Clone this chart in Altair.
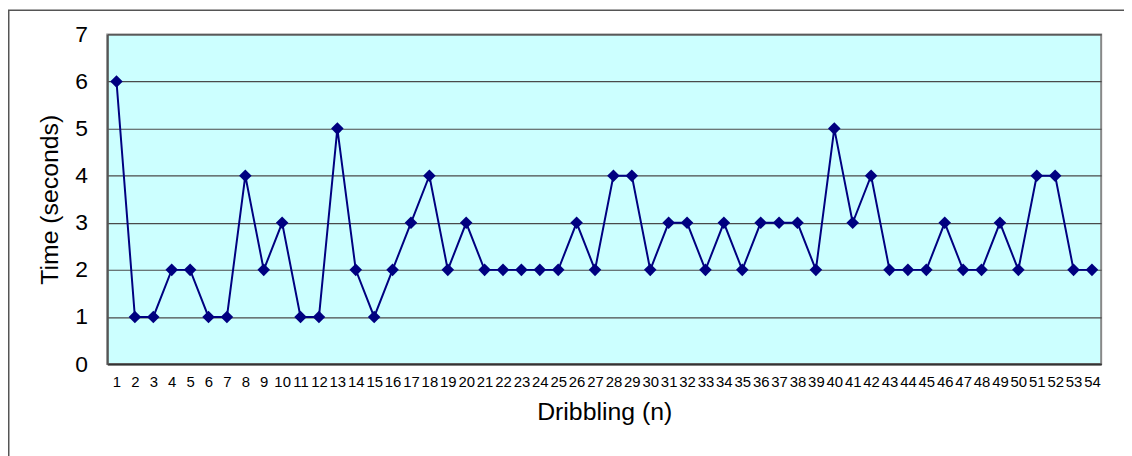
import altair as alt
import pandas as pd

trial = list(range(1, 55))
seconds = [6, 1, 1, 2, 2, 1, 1, 4, 2, 3, 1, 1, 5, 2, 1, 2, 3, 4, 2, 3,
           2, 2, 2, 2, 2, 3, 2, 4, 4, 2, 3, 3, 2, 3, 2, 3, 3, 3, 2, 5,
           3, 4, 2, 2, 2, 3, 2, 2, 3, 2, 4, 4, 2, 2]

df = pd.DataFrame({"n": trial, "t": seconds})

W, H = 1001, 332
PL, PT, PR, PB = 100, 25, 23, 91

x = alt.X("n:O", title="Dribbling (n)",
          scale=alt.Scale(type="point", padding=0.5),
          axis=alt.Axis(labelAngle=0, labelFontSize=15, labelPadding=11,
                        ticks=False, domainColor="#333333", domainWidth=2,
                        titleFontSize=25, titleFontWeight="normal",
                        titlePadding=10, labelFont="Liberation Sans",
                        titleFont="Liberation Sans", labelColor="black",
                        titleColor="black", labelOverlap=False))
y = alt.Y("t:Q", title="Time (seconds)",
          scale=alt.Scale(domain=[0, 7], nice=False),
          axis=alt.Axis(values=list(range(0, 8)), labelFontSize=23,
                        labelPadding=20, ticks=False, grid=True,
                        gridColor="#4a4a4a", gridWidth=1.2,
                        domainColor="#555555", domainWidth=2,
                        titleFontSize=25, titleFontWeight="normal",
                        titlePadding=12, labelFont="Liberation Sans",
                        titleFont="Liberation Sans", labelColor="black",
                        titleColor="black"))

frame = alt.Chart(pd.DataFrame({"k": [0]})).mark_rect(
    fill=None, stroke="#555555", strokeWidth=1.5
).encode(
    x=alt.value(-PL + 0.75), x2=alt.value(W + PR + 10),
    y=alt.value(-PT + 0.75), y2=alt.value(H + PB + 10),
)

line = alt.Chart(df).mark_line(color="#000080", strokeWidth=2).encode(x=x, y=y)
pts = alt.Chart(df).mark_point(shape="diamond", filled=True, color="#000080",
                               size=160, opacity=1).encode(x=x, y=y)

chart = alt.layer(line, pts, frame).properties(
    width=W, height=H,
    background="white",
    autosize=alt.AutoSizeParams(type="none"),
    padding={"left": PL, "top": PT, "right": PR, "bottom": PB},
).configure_view(
    fill="#CCFFFF", stroke="#888888", strokeWidth=2
)

chart.save("out.html", embed_options={"renderer": "svg", "actions": False})
